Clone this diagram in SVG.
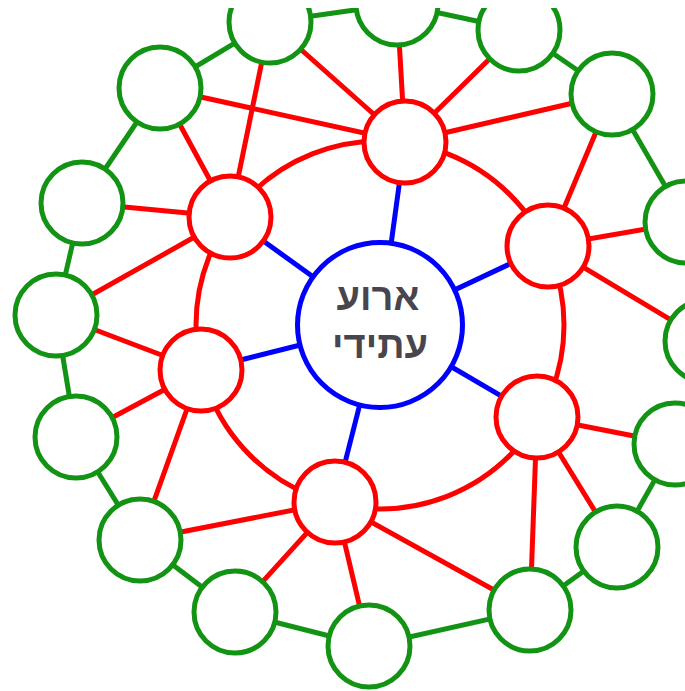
<svg xmlns="http://www.w3.org/2000/svg" width="685" height="691" viewBox="0 0 685 691">
<style>
.g{stroke:#139313;stroke-width:5;fill:none}
.r{stroke:#ff0000;stroke-width:5;fill:none}
.b{stroke:#0000ff;stroke-width:5;fill:none}
.gn circle{fill:#fff;stroke:#139313;stroke-width:5}
.rn circle{fill:#fff;stroke:#ff0000;stroke-width:5}
.bn circle{fill:#fff;stroke:#0000ff;stroke-width:5}
.t{font-family:"Liberation Sans","DejaVu Sans",sans-serif;font-size:38px;font-weight:bold;fill:#48454d;text-anchor:middle}
</style>
<defs>
<clipPath id="cp"><rect x="0" y="8" width="685" height="683"/></clipPath>
</defs>
<rect width="685" height="691" fill="#fff"/>
<g clip-path="url(#cp)">
<g id="connectors">
<g class="g">
<line x1="270" y1="22" x2="397" y2="4"/>
<line x1="397" y1="4" x2="519" y2="30"/>
<line x1="519" y1="30" x2="612" y2="94"/>
<line x1="612" y1="94" x2="686" y2="222"/>
<line x1="686" y1="222" x2="706" y2="341"/>
<line x1="706" y1="341" x2="675" y2="444"/>
<line x1="675" y1="444" x2="617" y2="547"/>
<line x1="617" y1="547" x2="530" y2="610"/>
<line x1="530" y1="610" x2="369" y2="646"/>
<line x1="369" y1="646" x2="235" y2="612"/>
<line x1="235" y1="612" x2="140" y2="540"/>
<line x1="140" y1="540" x2="76" y2="437"/>
<line x1="76" y1="437" x2="56" y2="315"/>
<line x1="56" y1="315" x2="82" y2="203"/>
<line x1="82" y1="203" x2="160" y2="88"/>
<line x1="160" y1="88" x2="270" y2="22"/>
</g>
<g class="r">
<circle cx="380" cy="325" r="184"/>
<line x1="405" y1="142" x2="270" y2="22"/>
<line x1="405" y1="142" x2="397" y2="4"/>
<line x1="405" y1="142" x2="519" y2="30"/>
<line x1="405" y1="142" x2="612" y2="94"/>
<line x1="405" y1="142" x2="160" y2="88"/>
<line x1="230" y1="217" x2="270" y2="22"/>
<line x1="230" y1="217" x2="160" y2="88"/>
<line x1="230" y1="217" x2="82" y2="203"/>
<line x1="230" y1="217" x2="56" y2="315"/>
<line x1="201" y1="370" x2="56" y2="315"/>
<line x1="201" y1="370" x2="76" y2="437"/>
<line x1="201" y1="370" x2="140" y2="540"/>
<line x1="335" y1="502" x2="140" y2="540"/>
<line x1="335" y1="502" x2="235" y2="612"/>
<line x1="335" y1="502" x2="369" y2="646"/>
<line x1="335" y1="502" x2="530" y2="610"/>
<line x1="537" y1="417" x2="530" y2="610"/>
<line x1="537" y1="417" x2="617" y2="547"/>
<line x1="537" y1="417" x2="675" y2="444"/>
<line x1="548" y1="246" x2="706" y2="341"/>
<line x1="548" y1="246" x2="686" y2="222"/>
<line x1="548" y1="246" x2="612" y2="94"/>
</g>
<g class="b">
<line x1="380" y1="325" x2="405" y2="142"/>
<line x1="380" y1="325" x2="230" y2="217"/>
<line x1="380" y1="325" x2="548" y2="246"/>
<line x1="380" y1="325" x2="201" y2="370"/>
<line x1="380" y1="325" x2="537" y2="417"/>
<line x1="380" y1="325" x2="335" y2="502"/>
</g>
</g>
<g id="g1" class="gn"><circle cx="270" cy="22" r="41"/></g>
<g id="g2" class="gn"><circle cx="397" cy="4" r="41"/></g>
<g id="g3" class="gn"><circle cx="519" cy="30" r="41"/></g>
<g id="g4" class="gn"><circle cx="612" cy="94" r="41"/></g>
<g id="g5" class="gn"><circle cx="686" cy="222" r="41"/></g>
<g id="g6" class="gn"><circle cx="706" cy="341" r="41"/></g>
<g id="g7" class="gn"><circle cx="675" cy="444" r="41"/></g>
<g id="g8" class="gn"><circle cx="617" cy="547" r="41"/></g>
<g id="g9" class="gn"><circle cx="530" cy="610" r="41"/></g>
<g id="g10" class="gn"><circle cx="369" cy="646" r="41"/></g>
<g id="g11" class="gn"><circle cx="235" cy="612" r="41"/></g>
<g id="g12" class="gn"><circle cx="140" cy="540" r="41"/></g>
<g id="g13" class="gn"><circle cx="76" cy="437" r="41"/></g>
<g id="g14" class="gn"><circle cx="56" cy="315" r="41"/></g>
<g id="g15" class="gn"><circle cx="82" cy="203" r="41"/></g>
<g id="g16" class="gn"><circle cx="160" cy="88" r="41"/></g>
<g id="r1" class="rn"><circle cx="405" cy="142" r="41"/></g>
<g id="r2" class="rn"><circle cx="230" cy="217" r="41"/></g>
<g id="r3" class="rn"><circle cx="548" cy="246" r="41"/></g>
<g id="r4" class="rn"><circle cx="201" cy="370" r="41"/></g>
<g id="r5" class="rn"><circle cx="537" cy="417" r="41"/></g>
<g id="r6" class="rn"><circle cx="335" cy="502" r="41"/></g>
<g id="center" class="bn">
<circle cx="380" cy="325" r="82.5"/>
<text class="t" x="378" y="310">ארוע</text>
<text class="t" x="380" y="358">עתידי</text>
</g>
</g>
</svg>
